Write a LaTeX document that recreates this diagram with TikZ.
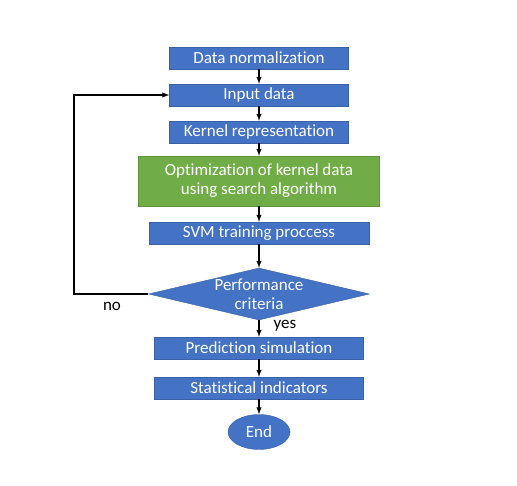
\documentclass[tikz,border=0pt]{standalone}
\usepackage{fontspec}
\setmainfont{Carlito}[Ligatures=NoCommon]
\usetikzlibrary{shapes.geometric}

\definecolor{boxblue}{HTML}{4472C4}
\definecolor{boxgreen}{HTML}{70AD47}

\begin{document}
\begin{tikzpicture}[x=1pt,y=-1pt,
  every node/.style={font=\fontsize{17}{19}\selectfont},
  blockbox/.style={fill=boxblue,draw=boxblue!85!black,line width=0.4pt,text=white,
                   minimum height=22pt,inner sep=0pt},
  optbox/.style={blockbox,fill=boxgreen,draw=boxgreen!85!black,align=center,
                 minimum width=241pt,minimum height=50pt},
  decision/.style={diamond,fill=boxblue,draw=boxblue!85!black,text=white,align=center,
                   aspect=4.25,inner sep=-6pt,minimum width=221pt,minimum height=52pt},
  endblob/.style={ellipse,fill=boxblue,draw=boxblue!85!black,text=white,inner sep=0pt,
                  minimum width=62pt,minimum height=35pt},
  flow/.style={line width=1.4pt,-latex}]

  % page size
  \useasboundingbox (0,0) rectangle (517,486);

  \def\xc{259}

  % main column
  \node[blockbox,minimum width=179pt] (norm)   at (\xc,58)  {Data normalization};
  \node[blockbox,minimum width=179pt] (input)  at (\xc,95)  {Input data};
  \node[blockbox,minimum width=179pt] (kernel) at (\xc,132) {Kernel representation};
  \node[optbox]                       (optim)  at (\xc,181) {Optimization of kernel data\\using search algorithm};
  \node[blockbox,minimum width=220pt] (svm)    at (\xc,233) {SVM training proccess};
  \node[decision]                     (perf)   at (\xc,294) {Performance\\criteria};
  \node[blockbox,minimum width=209pt] (pred)   at (\xc,348) {Prediction simulation};
  \node[blockbox,minimum width=209pt] (stat)   at (\xc,388) {Statistical indicators};
  \node[endblob]                      (end)    at (\xc,432) {End};

  % arrows down the column
  \draw[flow] (norm)   -- (input);
  \draw[flow] (input)  -- (kernel);
  \draw[flow] (kernel) -- (optim);
  \draw[flow] (optim)  -- (svm);
  \draw[flow] (svm)    -- (perf);
  \draw[flow] (perf)   -- (pred);
  \draw[flow] (pred)   -- (stat);
  \draw[flow] (stat)   -- (end);

  % feedback loop
  \coordinate (back) at (74,294);
  \draw[flow] (perf.west) -- (back) |- (input.west);

  % labels
  \node (no)  at (112,306) {no};
  \node (yes) at (285,326) {yes};

\end{tikzpicture}
\end{document}
